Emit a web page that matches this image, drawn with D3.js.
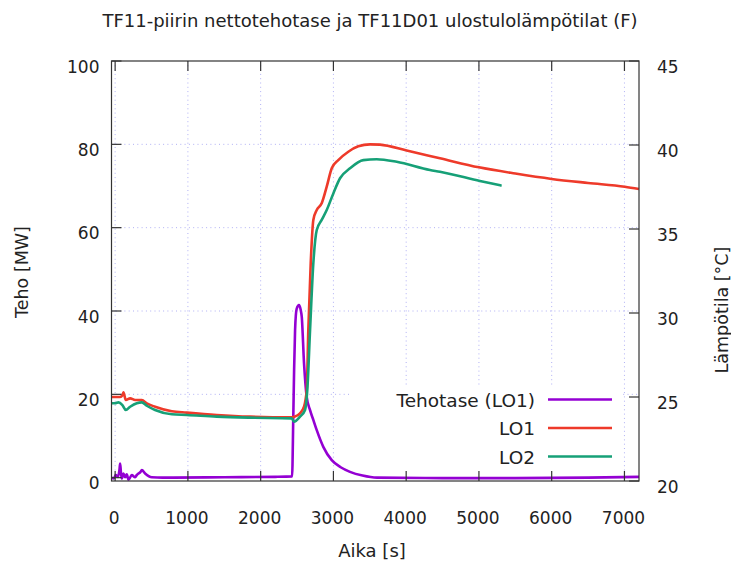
<!DOCTYPE html>
<html>
<head>
<meta charset="utf-8">
<script src="https://cdn.jsdelivr.net/npm/d3@7"></script>
<style>
  body { margin: 0; background: #fff; }
  svg { display: block; font-family: "DejaVu Sans", sans-serif; }
  .tick-label { font-size: 17px; fill: #222; }
</style>
</head>
<body>
<svg id="chart" width="731" height="567"></svg>
<script>
// Tehotase (LO1), MW on the left axis
const tehoTime = [-50, -20, 10, 40, 60, 69, 80, 92, 114, 137, 160, 183, 229, 275, 300, 320, 345, 367, 412, 504, 650, 800, 1500, 2200, 2432, 2448, 2460, 2473, 2495, 2527, 2550, 2565, 2596, 2633, 2679, 2725, 2771, 2861, 2977, 3100, 3228, 3400, 3600, 4500, 5500, 6500, 7200];
const tehoValue = [0.0, -0.2, 0.6, 0.2, 2.0, 3.4, 1.2, -0.2, 1.0, 0.1, 0.8, -0.5, 0.6, 0.1, 0.7, 1.0, 1.3, 1.8, 1.0, 0.1, 0.0, 0.0, 0.1, 0.2, 0.3, 14, 26, 35.4, 40.5, 41.4, 40.3, 38.6, 27.5, 19.4, 16.2, 13.8, 11.4, 7.4, 4.2, 2.5, 1.4, 0.5, 0.0, -0.1, -0.1, 0.0, 0.2];

// LO1 outlet temperature, degC on the right axis
const lo1Time = [-50, 0, 69, 100, 114, 147, 206, 275, 367, 435, 549, 779, 985, 1397, 1854, 2427, 2460, 2541, 2596, 2633, 2655, 2688, 2724, 2771, 2839, 2908, 2977, 3067, 3205, 3342, 3503, 3640, 4007, 4464, 5000, 5500, 5999, 6500, 7005, 7200];
const lo1Value = [25.0, 25.0, 25.0, 25.1, 25.28, 24.82, 24.92, 24.82, 24.82, 24.62, 24.42, 24.15, 24.07, 23.93, 23.83, 23.79, 23.82, 24.03, 24.42, 25.42, 28.99, 32.96, 35.54, 36.13, 36.53, 37.52, 38.61, 39.1, 39.6, 39.92, 40.04, 40.02, 39.67, 39.21, 38.67, 38.3, 37.98, 37.74, 37.52, 37.38];

// LO2 outlet temperature, degC on the right axis
const lo2Time = [-50, 0, 45, 100, 147, 206, 298, 367, 435, 549, 779, 985, 1397, 1854, 2427, 2459, 2541, 2610, 2641, 2679, 2724, 2771, 2839, 2908, 2999, 3091, 3228, 3411, 3595, 3870, 4327, 4464, 5014, 5312];
const lo2Value = [24.63, 24.63, 24.68, 24.52, 24.23, 24.42, 24.63, 24.68, 24.48, 24.23, 23.97, 23.93, 23.83, 23.77, 23.73, 23.53, 23.83, 24.23, 25.42, 28.99, 32.96, 34.94, 35.54, 36.13, 37.12, 38.02, 38.61, 39.1, 39.15, 39.0, 38.51, 38.41, 37.86, 37.58];

// axis ticks
const xTicks = [0, 1000, 2000, 3000, 4000, 5000, 6000, 7000];
const y1Ticks = [0, 20, 40, 60, 80, 100];
const y2Ticks = [20, 25, 30, 35, 40, 45];

const seriesNames = ['Tehotase (LO1)', 'LO1', 'LO2'];
const seriesColors = ['#9400d3', '#ee3a2a', '#16a077'];

const margin = { top: 61, left: 111.5, right: 92, bottom: 86 };
const width = 731 - margin.left - margin.right;
const height = 567 - margin.top - margin.bottom;

const svg = d3.select('#chart');
const g = svg.append('g').attr('transform', `translate(${margin.left},${margin.top})`);

const x = d3.scaleLinear().domain([-50, 7200]).range([0, width]);
const y1 = d3.scaleLinear().domain([-0.8, 100]).range([height, 0]);
const y2 = d3.scaleLinear().domain([20, 45]).range([height, 0]);

// grid
const grid = g.append('g')
	.attr('stroke', '#b0b0f4')
	.attr('stroke-width', 1)
	.attr('stroke-dasharray', '1,3.3');
grid.selectAll('.vgrid')
	.data(xTicks)
	.enter()
	.append('line')
		.attr('x1', d => x(d)).attr('x2', d => x(d))
		.attr('y1', 0).attr('y2', height);
grid.selectAll('.hgrid')
	.data(y1Ticks.filter(d => d > 0 && d < 100))
	.enter()
	.append('line')
		.attr('x1', 0).attr('x2', width)
		.attr('y1', d => y1(d)).attr('y2', d => y1(d));

// opaque key box hides the grid behind the legend
const keyX = 349 - margin.left, keyY = 386 - margin.top;
g.append('rect')
	.attr('x', keyX).attr('y', keyY)
	.attr('width', 272).attr('height', 90)
	.attr('fill', '#fff');

// data lines
const series = [
	{ t: tehoTime, v: tehoValue, scale: y1 },
	{ t: lo1Time, v: lo1Value, scale: y2 },
	{ t: lo2Time, v: lo2Value, scale: y2 }
];
series.forEach((s, i) => {
	const line = d3.line()
		.x(d => x(d[0]))
		.y(d => s.scale(d[1]))
		.curve(d3.curveMonotoneX);
	g.append('path')
		.datum(d3.zip(s.t, s.v))
		.attr('d', line)
		.attr('fill', 'none')
		.attr('stroke', seriesColors[i])
		.attr('stroke-width', 2.6)
		.attr('stroke-linejoin', 'round');
});

// border
g.append('rect')
	.attr('width', width).attr('height', height)
	.attr('fill', 'none')
	.attr('stroke', '#333')
	.attr('stroke-width', 1.2);

// axes: ticks pointing inward, labels placed by hand
const tickLen = 10;
const ticks = g.append('g').attr('stroke', '#333').attr('stroke-width', 1.2);
xTicks.forEach(d => {
	ticks.append('line').attr('x1', x(d)).attr('x2', x(d)).attr('y1', height).attr('y2', height - tickLen);
	ticks.append('line').attr('x1', x(d)).attr('x2', x(d)).attr('y1', 0).attr('y2', tickLen);
});
y1Ticks.forEach(d => {
	ticks.append('line').attr('x1', 0).attr('x2', tickLen).attr('y1', y1(d)).attr('y2', y1(d));
});
y2Ticks.forEach(d => {
	ticks.append('line').attr('x1', width).attr('x2', width - tickLen).attr('y1', y2(d)).attr('y2', y2(d));
});

g.selectAll('.xlab')
	.data(xTicks)
	.enter()
	.append('text')
		.attr('class', 'tick-label')
		.attr('x', d => x(d) - 1)
		.attr('y', height + 43)
		.attr('text-anchor', 'middle')
		.text(d => d);
g.selectAll('.y1lab')
	.data(y1Ticks)
	.enter()
	.append('text')
		.attr('class', 'tick-label')
		.attr('x', -12)
		.attr('y', d => y1(d) + 11.5)
		.attr('text-anchor', 'end')
		.text(d => d);
g.selectAll('.y2lab')
	.data(y2Ticks)
	.enter()
	.append('text')
		.attr('class', 'tick-label')
		.attr('x', width + 18)
		.attr('y', d => y2(d) + 11.5)
		.attr('text-anchor', 'start')
		.text(d => d);

// titles
svg.append('text')
	.attr('x', 370).attr('y', 27)
	.attr('text-anchor', 'middle')
	.attr('font-size', 18).attr('fill', '#222')
	.text('TF11-piirin nettotehotase ja TF11D01 ulostulolämpötilat (F)');
svg.append('text')
	.attr('x', 372).attr('y', 557)
	.attr('text-anchor', 'middle')
	.attr('font-size', 18).attr('fill', '#222')
	.text('Aika [s]');
svg.append('text')
	.attr('transform', 'translate(28,272) rotate(-90)')
	.attr('text-anchor', 'middle')
	.attr('font-size', 17.5).attr('fill', '#222')
	.text('Teho [MW]');
svg.append('text')
	.attr('transform', 'translate(728,310) rotate(-90)')
	.attr('text-anchor', 'middle')
	.attr('font-size', 17.5).attr('fill', '#222')
	.text('Lämpötila [°C]');

// legend
const legend = svg.append('g').attr('transform', 'translate(535, 399.5)');
seriesNames.forEach((name, i) => {
	legend.append('text')
		.attr('x', 0).attr('y', i * 28.5 + 7)
		.attr('text-anchor', 'end')
		.attr('font-size', 18.5).attr('fill', '#222')
		.text(name);
	legend.append('line')
		.attr('x1', 13).attr('x2', 77)
		.attr('y1', i * 28.5).attr('y2', i * 28.5)
		.attr('stroke', seriesColors[i])
		.attr('stroke-width', 2.6);
});
</script>
</body>
</html>
